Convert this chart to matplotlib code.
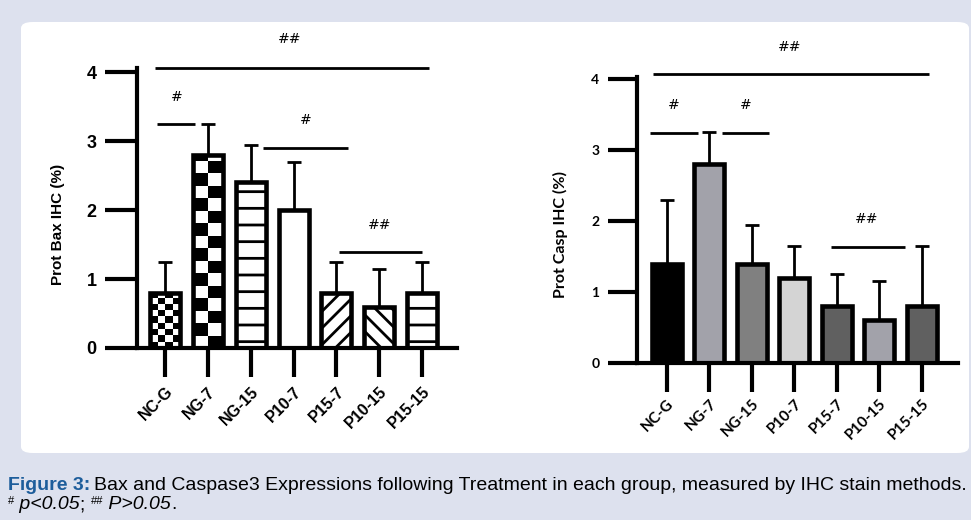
import matplotlib
matplotlib.use('Agg')
import matplotlib.pyplot as plt
import numpy as np
from matplotlib.patches import FancyBboxPatch

groups = ['NC-G', 'NG-7', 'NG-15', 'P10-7', 'P15-7', 'P10-15', 'P15-15']

# Bax (left panel): mean and top of error bar
bax_mean = [0.8, 2.8, 2.4, 2.0, 0.8, 0.6, 0.8]
bax_top = [1.25, 3.25, 2.95, 2.7, 1.25, 1.15, 1.25]
bax_fill = ['checker_small', 'checker_big', '-', '', '//', '\\\\', '-']

# Caspase3 (right panel)
casp_mean = [1.4, 2.8, 1.4, 1.2, 0.8, 0.6, 0.8]
casp_top = [2.3, 3.25, 1.95, 1.65, 1.25, 1.15, 1.65]
casp_colors = ['#000000', '#a2a2aa', '#808080', '#d4d4d4', '#606060', '#a2a2aa', '#606060']

# significance marks: (x from, x to, line y, label, label x, label y)
bax_sig = [(-0.23, 6.16, 4.06, '##', 2.9, 4.48),
           (-0.19, 0.70, 3.25, '#', 0.28, 3.64),
           (2.28, 4.28, 2.90, '#', 3.28, 3.30),
           (4.07, 6.00, 1.39, '##', 5.0, 1.78)]
casp_sig = [(-0.33, 6.16, 4.07, '##', 2.9, 4.45),
            (-0.40, 0.73, 3.24, '#', 0.16, 3.63),
            (1.29, 2.40, 3.24, '#', 1.86, 3.63),
            (3.86, 5.60, 1.63, '##', 4.7, 2.03)]

plt.rcParams['hatch.linewidth'] = 2.0

W, H = 971, 520
fig = plt.figure(figsize=(W / 100, H / 100), dpi=100)
fig.patch.set_facecolor('#dde1ee')
panel = FancyBboxPatch((21 / W, 1 - 453 / H), (969 - 21) / W, (453 - 22) / H,
                       boxstyle='round,pad=0,rounding_size=0.012',
                       transform=fig.transFigure, facecolor='white',
                       edgecolor='none', zorder=-5)
fig.patches.append(panel)


def checker(ax, bar, ncols, cell_h):
    x0, w, h = bar.get_x(), bar.get_width(), bar.get_height()
    nrows = int(np.ceil(h / cell_h))
    grid = np.indices((nrows, ncols)).sum(axis=0) % 2
    im = ax.imshow(grid, cmap='gray', extent=(x0, x0 + w, 0, nrows * cell_h),
                   origin='upper', interpolation='nearest', aspect='auto', zorder=2)
    im.set_clip_path(bar)


def style_axes(ax, xlim, ytop, font, ysize, ylabel, ytick_len, lsize, lpos, xsize, xpad):
    x = np.arange(len(groups))
    ax.set_xlim(*xlim)
    ax.set_ylim(0, ytop)
    for s in ['top', 'right']:
        ax.spines[s].set_visible(False)
    for s in ['left', 'bottom']:
        ax.spines[s].set_linewidth(3)
        ax.spines[s].set_capstyle('projecting')
    ax.set_yticks([0, 1, 2, 3, 4])
    ax.set_yticklabels(['0', '1', '2', '3', '4'], fontsize=ysize,
                       fontweight='bold', family=font)
    ax.tick_params(axis='y', length=ytick_len, width=3, pad=6)
    ax.set_xticks(x)
    ax.set_xticklabels(groups, rotation=45, ha='right', va='top',
                       rotation_mode='anchor', fontsize=xsize, fontweight='bold',
                       family=font)
    ax.tick_params(axis='x', length=21, width=3, pad=xpad)
    ax.set_ylabel(ylabel, fontsize=lsize, fontweight='bold', family=font)
    ax.yaxis.set_label_coords(*lpos)


def sig_marks(ax, marks, font):
    for x0, x1, y, lab, lx, ly in marks:
        ax.plot([x0, x1], [y, y], color='black', lw=2, clip_on=False,
                solid_capstyle='butt')
        ax.text(lx, ly, lab, ha='center', va='center', fontsize=10,
                family=font, clip_on=False)


# left panel
ax1 = fig.add_axes([137 / W, (H - 348) / H, 320 / W, 280 / H])
ax1.set_facecolor('none')
x = np.arange(len(groups))
err1 = [np.zeros(len(x)), np.array(bax_top) - np.array(bax_mean)]
ax1.errorbar(x, bax_mean, yerr=err1, fmt='none', ecolor='black',
             elinewidth=2, capsize=5, capthick=2, zorder=1)
bars = ax1.bar(x, bax_mean, width=0.7, color='white', edgecolor='black',
               linewidth=0, zorder=1.5)
for b, f in zip(bars, bax_fill):
    if f == 'checker_small':
        checker(ax1, b, 4, 0.09)
    elif f == 'checker_big':
        checker(ax1, b, 2, 0.18)
    elif f:
        b.set_hatch(f)
ax1.bar(x, bax_mean, width=0.7, color='none', edgecolor='black', linewidth=3.3, zorder=3)
style_axes(ax1, (-0.65, 6.81), 4.06, 'Liberation Sans', 13, 'Prot Bax IHC (%)', 23,
           11, (-0.225, 0.44), 11.5, 5)
sig_marks(ax1, bax_sig, 'DejaVu Sans')

# right panel
ax2 = fig.add_axes([637 / W, (H - 363) / H, 321 / W, 286 / H])
ax2.set_facecolor('none')
err2 = [np.zeros(len(x)), np.array(casp_top) - np.array(casp_mean)]
ax2.errorbar(x, casp_mean, yerr=err2, fmt='none', ecolor='black',
             elinewidth=2, capsize=5, capthick=2, zorder=1)
ax2.bar(x, casp_mean, width=0.7, color=casp_colors, edgecolor='black',
        linewidth=3.3, zorder=2)
style_axes(ax2, (-0.7, 6.85), 4.03, 'Lato', 10, 'Prot Casp IHC (%)', 21,
           11.5, (-0.215, 0.45), 11, 3)
sig_marks(ax2, casp_sig, 'DejaVu Sans')

# caption
cap_font = 'Liberation Sans'
cap_size = 14
t1 = fig.text(8 / W, 1 - 490 / H, 'Figure 3:', fontsize=cap_size, fontweight='bold',
              color='#1d5d9b', family=cap_font, va='baseline')
fig.canvas.draw()
r = fig.canvas.get_renderer()
bb = t1.get_window_extent(r)
fig.text((bb.x1 + 4) / W, 1 - 490 / H,
         'Bax and Caspase3 Expressions following Treatment in each group, '
         'measured by IHC stain methods.', fontsize=cap_size, family=cap_font,
         va='baseline')

pieces = [('#', 8, False, 5), (' p<0.05', cap_size, True, 0), ('; ', cap_size, False, 0),
          ('##', 8, False, 5), (' P>0.05', cap_size, True, 0), ('.', cap_size, False, 0)]
px = 8
for txt, size, ital, rise in pieces:
    t = fig.text(px / W, (H - 509 + rise) / H, txt, fontsize=size,
                 style='italic' if ital else 'normal', family=cap_font,
                 va='baseline')
    fig.canvas.draw()
    px = t.get_window_extent(r).x1

fig.savefig('out.png', dpi=100, facecolor=fig.get_facecolor())
